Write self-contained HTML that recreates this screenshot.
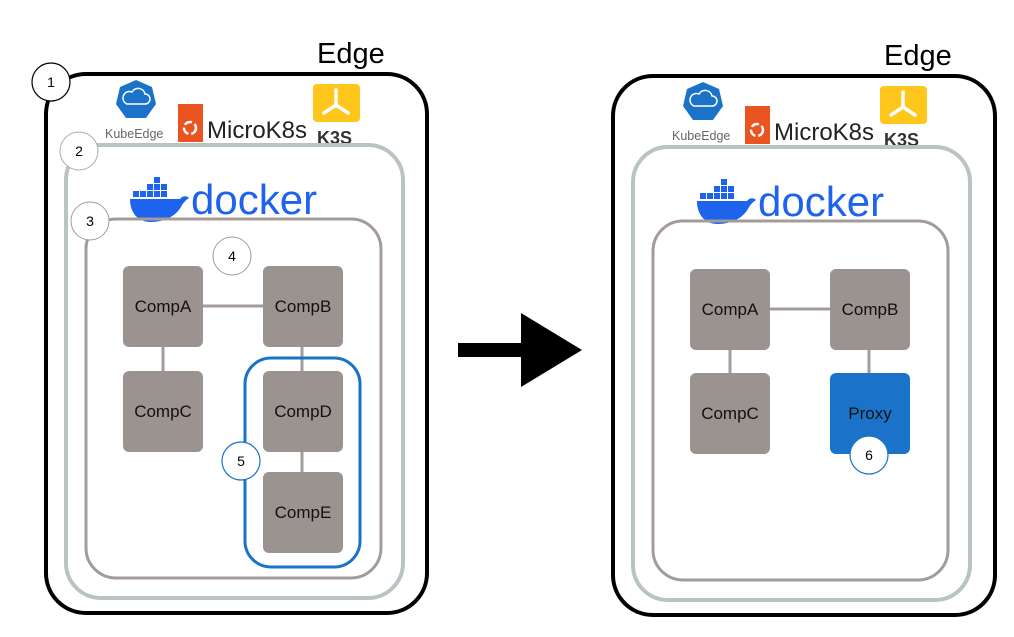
<!DOCTYPE html>
<html><head><meta charset="utf-8"><style>
html,body{margin:0;padding:0;background:#fff;width:1014px;height:637px;overflow:hidden}
svg{display:block}
text{font-family:"Liberation Sans",sans-serif}
</style></head><body>
<svg width="1014" height="637" viewBox="0 0 1014 637" xmlns="http://www.w3.org/2000/svg">
<defs></defs>
<!-- LEFT -->
<g>
<text x="317" y="63" font-size="29" fill="#000">Edge</text>
<rect x="46" y="74" width="381" height="539" rx="40" fill="none" stroke="#000" stroke-width="4"/>
<polygon points="136,80 152,87 156,104 146,118 126,118 116,104 120,87" fill="#1a73c8"/>
<path d="M127,104 h18 a5,5 0 0 0 0,-10 a7,7 0 0 0 -13,-2 a5,5 0 0 0 -5,12z" fill="none" stroke="#fff" stroke-width="1.5"/>
<text x="105" y="138" font-size="12.5" fill="#666">KubeEdge</text>
<rect x="178" y="104" width="25" height="38" fill="#e95420"/>
<circle cx="190" cy="128" r="6" fill="none" stroke="#fff" stroke-width="2.5" stroke-dasharray="8 3"/>
<text x="207" y="138" font-size="24" fill="#222">MicroK8s</text>
<rect x="313" y="84" width="47" height="38" rx="4" fill="#ffc61c"/>
<path d="M336,90 v15 M336,105 l-12,8 M336,105 l12,8" stroke="#fff" stroke-width="3.5" stroke-linecap="round"/>
<text x="317" y="144" font-size="18" font-weight="bold" fill="#333">K3S</text>
<rect x="66" y="145" width="337" height="453" rx="35" fill="none" stroke="#b9c3c3" stroke-width="4"/>
<path d="M130,199 h50 c3,-4 7,-3 9,-1 c-3,2 -5,4 -7,7 c-5,11 -18,17 -31,17 c-13,0 -21,-9 -21,-23z" fill="#1d63ed"/>
<g fill="#1d63ed"><rect x="133" y="191" width="6" height="6"/><rect x="140" y="191" width="6" height="6"/><rect x="147" y="191" width="6" height="6"/><rect x="154" y="191" width="6" height="6"/><rect x="161" y="191" width="6" height="6"/><rect x="147" y="184" width="6" height="6"/><rect x="154" y="184" width="6" height="6"/><rect x="161" y="184" width="6" height="6"/><rect x="154" y="177" width="6" height="6"/></g>
<text x="191" y="214" font-size="42" fill="#1d63ed">docker</text>
<rect x="86" y="219" width="295" height="359" rx="30" fill="none" stroke="#a39b98" stroke-width="3"/>
<line x1="163" y1="306" x2="303" y2="306" stroke="#a39b98" stroke-width="3"/>
<line x1="163" y1="306" x2="163" y2="411" stroke="#a39b98" stroke-width="3"/>
<line x1="302" y1="306" x2="302" y2="512" stroke="#a39b98" stroke-width="3"/>
<rect x="245" y="358" width="115" height="209" rx="26" fill="none" stroke="#1a73c8" stroke-width="3"/>
<g fill="#9a9390"><rect x="123" y="266" width="80" height="81" rx="6"/><rect x="263" y="266" width="80" height="81" rx="6"/><rect x="123" y="371" width="80" height="81" rx="6"/><rect x="263" y="371" width="80" height="81" rx="6"/><rect x="263" y="472" width="80" height="81" rx="6"/></g>
<g font-size="17" fill="#111" text-anchor="middle"><text x="163" y="312">CompA</text><text x="303" y="312">CompB</text><text x="163" y="417">CompC</text><text x="303" y="417">CompD</text><text x="303" y="518">CompE</text></g>
<g font-size="14" text-anchor="middle" fill="#000">
<circle cx="51" cy="82" r="19" fill="#fff" stroke="#000" stroke-width="1.2"/><text x="51" y="87">1</text>
<circle cx="79" cy="151" r="19" fill="#fff" stroke="#aab" stroke-width="1"/><text x="79" y="156">2</text>
<circle cx="90" cy="221" r="19" fill="#fff" stroke="#a39b98" stroke-width="1"/><text x="90" y="226">3</text>
<circle cx="232" cy="256" r="19" fill="#fff" stroke="#a39b98" stroke-width="1"/><text x="232" y="261">4</text>
<circle cx="241" cy="461" r="19" fill="#fff" stroke="#1a73c8" stroke-width="1.2"/><text x="241" y="466">5</text>
</g>
</g>
<rect x="458" y="343" width="65" height="14" fill="#000"/>
<polygon points="521,313 521,387 582,350" fill="#000"/>
<!-- RIGHT -->
<g transform="translate(567,2)">
<text x="317" y="63" font-size="29" fill="#000">Edge</text>
<rect x="46" y="74" width="382" height="539" rx="40" fill="none" stroke="#000" stroke-width="4"/>
<polygon points="136,80 152,87 156,104 146,118 126,118 116,104 120,87" fill="#1a73c8"/>
<path d="M127,104 h18 a5,5 0 0 0 0,-10 a7,7 0 0 0 -13,-2 a5,5 0 0 0 -5,12z" fill="none" stroke="#fff" stroke-width="1.5"/>
<text x="105" y="138" font-size="12.5" fill="#666">KubeEdge</text>
<rect x="178" y="104" width="25" height="38" fill="#e95420"/>
<circle cx="190" cy="128" r="6" fill="none" stroke="#fff" stroke-width="2.5" stroke-dasharray="8 3"/>
<text x="207" y="138" font-size="24" fill="#222">MicroK8s</text>
<rect x="313" y="84" width="47" height="38" rx="4" fill="#ffc61c"/>
<path d="M336,90 v15 M336,105 l-12,8 M336,105 l12,8" stroke="#fff" stroke-width="3.5" stroke-linecap="round"/>
<text x="317" y="144" font-size="18" font-weight="bold" fill="#333">K3S</text>
<rect x="66" y="145" width="337" height="453" rx="35" fill="none" stroke="#b9c3c3" stroke-width="4"/>
<path d="M130,199 h50 c3,-4 7,-3 9,-1 c-3,2 -5,4 -7,7 c-5,11 -18,17 -31,17 c-13,0 -21,-9 -21,-23z" fill="#1d63ed"/>
<g fill="#1d63ed"><rect x="133" y="191" width="6" height="6"/><rect x="140" y="191" width="6" height="6"/><rect x="147" y="191" width="6" height="6"/><rect x="154" y="191" width="6" height="6"/><rect x="161" y="191" width="6" height="6"/><rect x="147" y="184" width="6" height="6"/><rect x="154" y="184" width="6" height="6"/><rect x="161" y="184" width="6" height="6"/><rect x="154" y="177" width="6" height="6"/></g>
<text x="191" y="214" font-size="42" fill="#1d63ed">docker</text>
<rect x="86" y="219" width="295" height="359" rx="30" fill="none" stroke="#a39b98" stroke-width="3"/>
<line x1="163" y1="307" x2="303" y2="307" stroke="#a39b98" stroke-width="3"/>
<line x1="163" y1="307" x2="163" y2="411" stroke="#a39b98" stroke-width="3"/>
<line x1="302" y1="307" x2="302" y2="411" stroke="#a39b98" stroke-width="3"/>
<g fill="#9a9390"><rect x="123" y="267" width="80" height="81" rx="6"/><rect x="263" y="267" width="80" height="81" rx="6"/><rect x="123" y="371" width="80" height="81" rx="6"/></g>
<rect x="263" y="371" width="80" height="81" rx="6" fill="#1a73c8"/>
<g font-size="17" fill="#111" text-anchor="middle"><text x="163" y="313">CompA</text><text x="303" y="313">CompB</text><text x="163" y="417">CompC</text><text x="303" y="417">Proxy</text></g>
<circle cx="302" cy="453" r="19" fill="#fff" stroke="#1a73c8" stroke-width="1.2"/><text x="302" y="458" font-size="14" text-anchor="middle">6</text>
</g>
</svg>
</body></html>
